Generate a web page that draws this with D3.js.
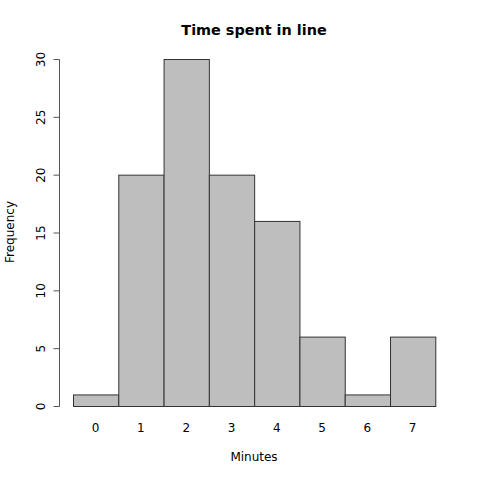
<!DOCTYPE html>
<html><head><meta charset="utf-8">
<script src="https://cdn.jsdelivr.net/npm/d3@7"></script>
<style>body{margin:0;background:#fff}svg{display:block}</style>
</head><body>
<svg id="c" width="480" height="480"></svg>
<script>
const categories = ["0","1","2","3","4","5","6","7"];
const frequencies = [1,20,30,20,16,6,1,6];
const yTicks = [0,5,10,15,20,25,30];
const title = "Time spent in line";
const xLabel = "Minutes";
const yLabel = "Frequency";

const svg = d3.select("#c");
const font = "DejaVu Sans, sans-serif";
const x = d3.scaleBand().domain(categories).range([73, 435.3]).padding(0);
const y = d3.scaleLinear().domain([0,30]).range([406, 59]);

svg.selectAll("rect.bar").data(frequencies).join("rect")
  .attr("class","bar")
  .attr("x",(d,i)=>x(categories[i])+0.5)
  .attr("width",x.bandwidth())
  .attr("y",d=>y(d)+0.5)
  .attr("height",d=>y(0)-y(d))
  .attr("fill","#bebebe").attr("stroke","#333").attr("stroke-width",1);

const ya = svg.append("g").attr("transform","translate(59.5,0.5)")
  .call(d3.axisLeft(y).tickValues(yTicks).tickSize(6).tickPadding(0));
ya.select(".domain").attr("stroke","#555").attr("d",`M-0,${y(30)}H0V${y(0)}H-0`);
ya.selectAll(".tick line").attr("stroke","#555");
ya.selectAll(".tick").attr("transform",null).each(function(d){
  const t = d3.select(this);
  t.select("line").attr("transform",`translate(0,${y(d)})`);
  t.select("text").attr("font-family",font).attr("font-size",12).attr("fill","#000")
    .attr("text-anchor","middle").attr("x",-19).attr("y",y(d)).attr("dy","0.35em")
    .attr("transform",`rotate(-90,-19,${y(d)})`);
});

svg.append("g").selectAll("text").data(categories).join("text")
  .attr("x",d=>x(d)+x.bandwidth()/2).attr("y",432)
  .attr("text-anchor","middle").attr("font-family",font).attr("font-size",12).text(d=>d);

svg.append("text").attr("x",254).attr("y",35).attr("text-anchor","middle")
  .attr("font-family",font).attr("font-size",14.4).attr("font-weight","bold").text(title);
svg.append("text").attr("x",254).attr("y",461).attr("text-anchor","middle")
  .attr("font-family",font).attr("font-size",12).text(xLabel);
svg.append("text").attr("transform","translate(14,232) rotate(-90)").attr("text-anchor","middle")
  .attr("font-family",font).attr("font-size",12).text(yLabel);
</script>
</body></html>
